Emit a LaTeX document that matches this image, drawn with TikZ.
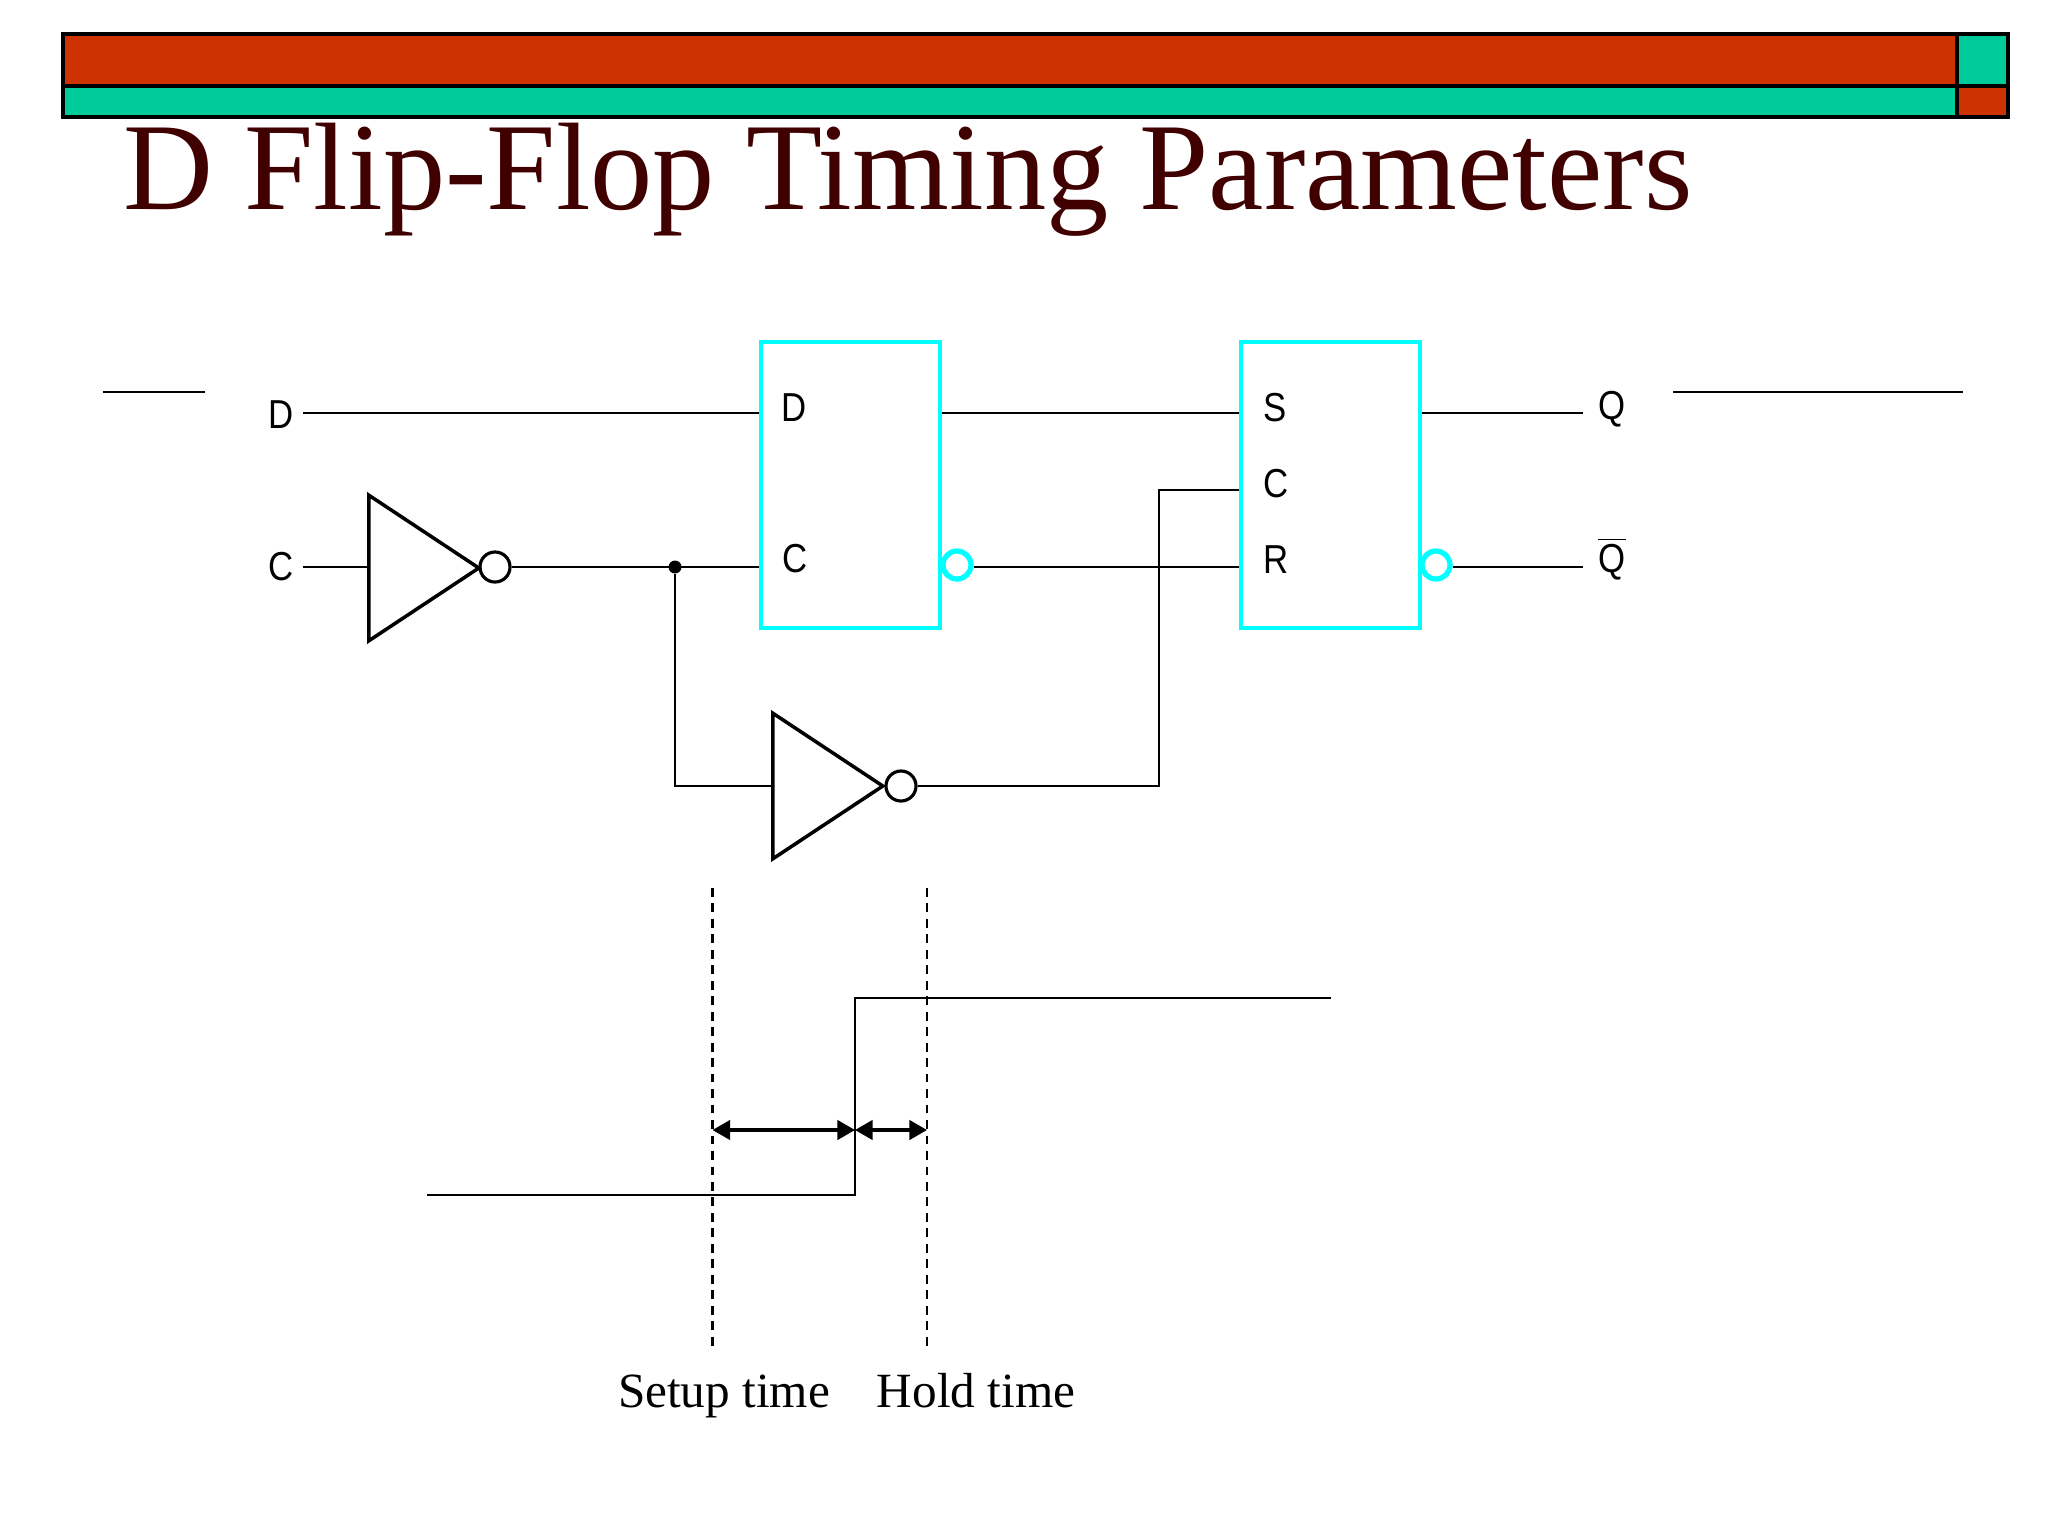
\documentclass[tikz,border=0pt]{standalone}
\usepackage{fontspec}
\setmainfont{Liberation Serif}
\newfontfamily\pinfont[FakeStretch=0.86]{Liberation Sans}
\usetikzlibrary{shapes.geometric, arrows.meta, calc}

\definecolor{barred}{HTML}{CC3300}
\definecolor{bargreen}{HTML}{00CC99}
\definecolor{titlered}{HTML}{400000}
\definecolor{ffcyan}{HTML}{00FFFF}

\tikzset{
    wire/.style={line width=0.6pt},
    barcell/.style={draw, line width=0.9pt},
    ffbox/.style={draw=ffcyan, line width=1.1pt, minimum width=1.79cm, minimum height=2.86cm, inner sep=0pt},
    ffbubble/.style={circle, draw=ffcyan, line width=1.5pt, minimum size=0.28cm, inner sep=0pt},
    notbubble/.style={circle, draw, line width=0.9pt, minimum size=0.3cm, inner sep=0pt},
    invtri/.style={isosceles triangle, isosceles triangle apex angle=67, draw, line width=1pt, minimum height=1.10cm, inner sep=0pt},
    pinlabel/.style={font=\pinfont\fontsize{11.5}{12}\selectfont, inner sep=0pt},
    timelabel/.style={font=\fontsize{14}{15}\selectfont, anchor=base, inner sep=0pt},
    timedash/.style={line width=0.6pt, dash pattern=on 2.5pt off 1.9pt},
    span/.style={line width=0.9pt, {Triangle[length=5pt,width=5.5pt]}-{Triangle[length=5pt,width=5.5pt]}}
}

\begin{document}
\begin{tikzpicture}[x=0.01cm,y=-0.01cm]

    \useasboundingbox (0,0) rectangle (2048,1536);

    % header bar
    \draw[barcell, fill=barred] (63,34) rectangle (1957,86);
    \draw[barcell, fill=bargreen] (63,86) rectangle (1957,117);
    \draw[barcell, fill=bargreen] (1957,34) rectangle (2008,86);
    \draw[barcell, fill=barred] (1957,86) rectangle (2008,117);
    \node (title) [anchor=base west, inner sep=0pt, text=titlered, font=\fontsize{35.4}{40}\selectfont] at (123,209) {D Flip-Flop Timing Parameters};

    \draw[line width=0.8pt] (103,392) -- (205,392);
    \draw[line width=0.8pt] (1673,392) -- (1963,392);

    % flip-flops
    \node (dff) [ffbox] at (850.5,485) {};
    \node (srff) [ffbox] at (1330.5,485) {};
    \node (dffnot) [ffbubble] at (957,565) {};
    \node (srffnot) [ffbubble] at (1436,565) {};

    \node (dffd) [pinlabel] at (794,408) {D};
    \node (dffc) [pinlabel] at (795,559) {C};
    \node (srs) [pinlabel] at (1275,408) {S};
    \node (src) [pinlabel] at (1276,484) {C};
    \node (srr) [pinlabel] at (1276,560) {R};
    \node (inD) [pinlabel] at (281,415) {D};
    \node (inC) [pinlabel] at (281,567) {C};
    \node (outQ) [pinlabel] at (1612,409) {Q};
    \node (outQn) [pinlabel] at (1612,559) {$\overline{\mbox{Q}}$};

    % inverters
    \node (inva) [invtri, anchor=lower side] at (367,568) {};
    \node (invabub) [notbubble] at (495,567) {};
    \node (invb) [invtri, anchor=lower side] at (771,786) {};
    \node (invbbub) [notbubble] at (901,786) {};

    \coordinate (dstart) at (303,413);
    \coordinate (cstart) at (303,567);
    \coordinate (qend) at (1583,413);
    \coordinate (qnend) at (1583,567);
    \node (tap) [circle, fill, minimum size=0.13cm, inner sep=0pt] at (675,567) {};

    \draw[wire] (dstart) -- (dstart -| dff.west);
    \draw[wire] (dstart -| dff.east) -- (dstart -| srff.west);
    \draw[wire] (dstart -| srff.east) -- (qend);
    \draw[wire] (cstart) -- (cstart -| inva.lower side);
    \draw[wire] (invabub.east) -- (cstart -| dff.west);
    \draw[wire] (dffnot.east |- qnend) -- (qnend -| srff.west);
    \draw[wire] (srffnot.east |- qnend) -- (qnend);
    \draw[wire] (tap) |- (invb.lower side);
    \draw[wire] (invbbub.east) -- (1159,786) |- (srff.west |- 0,490);

    % timing
    \coordinate (lowstart) at (427,1195);
    \coordinate (edgelow) at (855,1195);
    \coordinate (edgehigh) at (855,998);
    \coordinate (highend) at (1331,998);
    \coordinate (setuptop) at (712.5,888);
    \coordinate (setupbot) at (712.5,1348);
    \coordinate (holdtop) at (927,888);
    \coordinate (holdbot) at (927,1348);
    \draw[wire] (lowstart) -- (edgelow) -- (edgehigh) -- (highend);
    \draw[timedash] (setuptop) -- (setupbot);
    \draw[timedash] (holdtop) -- (holdbot);
    \draw[span] (setuptop |- 0,1130) -- (edgelow |- 0,1130);
    \draw[span] (edgelow |- 0,1130) -- (holdtop |- 0,1130);

    \node (setup) [timelabel] at (724,1407) {Setup time};
    \node (hold) [timelabel] at (976,1407) {Hold time};

\end{tikzpicture}
\end{document}
